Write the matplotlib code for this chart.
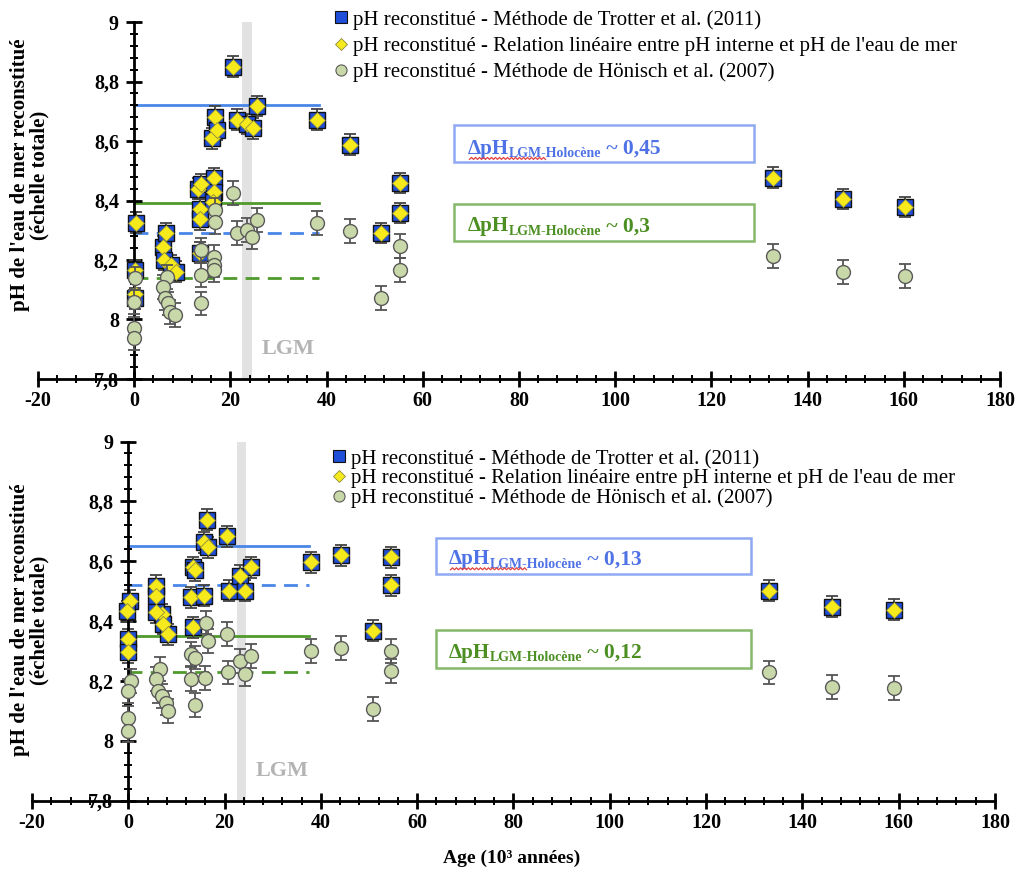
import numpy as np
import matplotlib
matplotlib.use("Agg")
import matplotlib.pyplot as plt
from matplotlib.lines import Line2D
from matplotlib.patches import Rectangle
from matplotlib.ticker import MultipleLocator

plt.rcParams['font.family'] = ['Liberation Serif', 'DejaVu Serif']

# ---- panneau du haut ----
top_trotter_age = [0.3, 0.2, 0.2, 5.9, 6.7, 6.3, 7.7, 8.8, 13.3, 14.0, 13.6, 13.6, 13.6,
                   16.5, 16.5, 16.4, 16.2, 16.8, 17.2, 20.6, 21.4, 23.4, 24.8, 25.6,
                   38.0, 44.9, 51.4, 55.3, 55.3, 132.8, 147.4, 160.3]
top_trotter_ph = [8.325, 8.166, 8.071, 8.245, 8.29, 8.20, 8.183, 8.16, 8.44, 8.455, 8.37, 8.337, 8.225,
                  8.475, 8.43, 8.396, 8.609, 8.682, 8.637, 8.85, 8.671, 8.657, 8.643, 8.718,
                  8.671, 8.587, 8.291, 8.459, 8.358, 8.476, 8.405, 8.378]
top_lin_ph = [8.325, 8.166, 8.085, 8.245, 8.29, 8.20, 8.183, 8.16, 8.44, 8.455, 8.37, 8.337, 8.225,
              8.475, 8.43, 8.396, 8.609, 8.682, 8.637, 8.85, 8.671, 8.657, 8.643, 8.718,
              8.671, 8.587, 8.291, 8.459, 8.358, 8.476, 8.405, 8.378]
top_honisch_age = [0.2, 0.0, 0.0, 0.0, 6.8, 6.1, 6.4, 7.1, 7.5, 8.5, 13.8, 13.8, 13.8,
                   16.8, 16.8, 16.7, 16.6, 16.6, 20.6, 21.4, 23.4, 24.4, 25.5, 38.0,
                   44.9, 51.4, 55.3, 55.3, 132.8, 147.4, 160.3]
top_honisch_ph = [8.138, 8.06, 7.97, 7.937, 8.144, 8.11, 8.071, 8.054, 8.026, 8.015, 8.234, 8.15, 8.054,
                  8.368, 8.329, 8.211, 8.183, 8.166, 8.424, 8.29, 8.301, 8.278, 8.334, 8.325,
                  8.297, 8.072, 8.247, 8.166, 8.213, 8.16, 8.146]
top_levels = {'blue_lgm': 8.72, 'blue_hol': 8.29, 'green_lgm': 8.39, 'green_hol': 8.14}
top_deltas = ['0,45', '0,3']

# ---- panneau du bas ----
bot_trotter_age = [0.3, -0.2, 0.0, 0.0, 5.8, 5.8, 6.9, 5.8, 7.2, 8.2, 13.4, 13.8, 13.1, 15.8, 13.4,
                   16.4, 15.8, 16.5, 20.4, 21.0, 23.1, 24.2, 25.4, 38.0, 44.2, 50.9, 54.6, 54.6,
                   133.1, 146.2, 159.1]
bot_trotter_ph = [8.468, 8.432, 8.34, 8.295, 8.518, 8.482, 8.423, 8.43, 8.39, 8.356, 8.58, 8.569, 8.479, 8.485, 8.379,
                  8.739, 8.664, 8.647, 8.683, 8.502, 8.552, 8.502, 8.58, 8.597, 8.62, 8.368, 8.613, 8.519,
                  8.502, 8.448, 8.438]
bot_lin_ph = list(bot_trotter_ph)
bot_honisch_age = [0.5, 0.0, 0.0, 0.0, 6.5, 5.8, 6.2, 6.9, 7.9, 8.2, 13.1, 13.8, 13.1, 13.8,
                   16.2, 16.6, 16.0, 20.7, 20.4, 23.1, 24.2, 25.5, 38.0, 44.2, 50.9, 54.6, 54.6,
                   133.1, 146.2, 159.1]
bot_honisch_ph = [8.20, 8.166, 8.077, 8.034, 8.239, 8.205, 8.166, 8.149, 8.127, 8.099, 8.289, 8.278, 8.205, 8.119,
                  8.395, 8.334, 8.211, 8.228, 8.358, 8.267, 8.222, 8.284, 8.30, 8.31, 8.105, 8.30, 8.233,
                  8.228, 8.18, 8.177]
bot_levels = {'blue_lgm': 8.65, 'blue_hol': 8.52, 'green_lgm': 8.35, 'green_hol': 8.23}
bot_deltas = ['0,13', '0,12']

labels = ["pH reconstitué - Méthode de Trotter et al. (2011)",
          "pH reconstitué - Relation linéaire entre pH interne et pH de l'eau de mer",
          "pH reconstitué - Méthode de Hönisch et al. (2007)"]

BLUE = '#1f4fd8'
YELLOW = '#f7ea1c'
SAGE = '#c9d8a9'
LINE_BLUE = '#4a86e8'
LINE_GREEN = '#4f9a2c'
TXT_BLUE = '#4f72e6'
TXT_GREEN = '#4c8f22'

fig = plt.figure(figsize=(10.23, 8.71), dpi=100)
ax_top = fig.add_axes([0.0371, 0.5649, 0.9404, 0.4098])
ax_bot = fig.add_axes([0.0313, 0.0809, 0.9413, 0.4122])
squiggle_texts = []


def delta_label(ax, x, y, value, color):
    t1 = ax.text(x, y, 'ΔpH', color=color, fontsize=15, fontweight='bold', va='baseline')
    t2 = ax.annotate('LGM-Holocène', xy=(1, 0), xycoords=t1, xytext=(0, 1),
                     textcoords='offset points', fontsize=10, fontweight='bold',
                     color=color, va='baseline')
    ax.annotate(' ~ ' + value, xy=(1, 0), xycoords=(t2, t1), fontsize=15.5,
                fontweight='bold', color=color, va='bottom')
    return t1, t2


def draw_panel(ax, t_age, t_ph, l_ph, h_age, h_ph, lv, deltas, boxes, text_xy, x_end):
    ax.set_xlim(-20, 180)
    ax.set_ylim(7.8, 9)
    ax.axvspan(22.5, 24.5, color='#e2e2e2', zorder=0, lw=0)

    ax.plot([0, x_end], [lv['blue_lgm']] * 2, color=LINE_BLUE, lw=2, zorder=1)
    ax.plot([0, x_end], [lv['blue_hol']] * 2, color=LINE_BLUE, lw=2, ls=(0, (5, 3)), zorder=1)
    ax.plot([0, x_end], [lv['green_lgm']] * 2, color=LINE_GREEN, lw=2, zorder=1)
    ax.plot([0, x_end], [lv['green_hol']] * 2, color=LINE_GREEN, lw=2, ls=(0, (5, 3)), zorder=1)

    ax.errorbar(t_age, t_ph, yerr=0.035, fmt='none', ecolor='#444444', elinewidth=1.3,
                capsize=4, capthick=1.3, zorder=2)
    ax.plot(t_age, t_ph, 's', ms=12, mfc=BLUE, mec='#111111', mew=1, ls='none', zorder=3)
    ax.plot(t_age, l_ph, 'D', ms=8.5, mfc=YELLOW, mec='#8a8a40', mew=0.6, ls='none', zorder=4)
    ax.errorbar(h_age, h_ph, yerr=0.04, fmt='none', ecolor='#555555', elinewidth=1.3,
                capsize=4, capthick=1.3, zorder=5)
    ax.plot(h_age, h_ph, 'o', ms=10, mfc=SAGE, mec='#5a5a5a', mew=1, ls='none', zorder=6)

    ax.text(32, 7.9, 'LGM', color='#b4b4b4', fontsize=16, fontweight='bold',
            ha='center', va='center')

    for (x0, x1, y0, y1), c in zip(boxes, ['#8fa9f2', '#86b86a']):
        ax.add_patch(Rectangle((x0, y0), x1 - x0, y1 - y0, fill=False, ec=c, lw=1.8, zorder=1))
    squiggle_texts.append(delta_label(ax, text_xy[0][0], text_xy[0][1], deltas[0], TXT_BLUE))
    delta_label(ax, text_xy[1][0], text_xy[1][1], deltas[1], TXT_GREEN)

    for s in ['top', 'right']:
        ax.spines[s].set_visible(False)
    ax.spines['left'].set_position(('data', 0))
    ax.spines['left'].set_linewidth(2)
    ax.spines['bottom'].set_linewidth(2)
    ax.set_zorder(1)

    xt = list(range(-20, 181, 20))
    ax.set_xticks(xt, [str(v) for v in xt], fontsize=14.5, fontweight='bold')
    yt = [7.8, 8.0, 8.2, 8.4, 8.6, 8.8, 9.0]
    ax.set_yticks(yt, [('%g' % v).replace('.', ',') for v in yt], fontsize=14.5, fontweight='bold')
    ax.xaxis.set_minor_locator(MultipleLocator(4))
    ax.yaxis.set_minor_locator(MultipleLocator(0.04))
    ax.tick_params(which='major', direction='inout', length=12, width=2, pad=3)
    ax.tick_params(which='minor', direction='inout', length=6, width=1.4)
    ax.tick_params(axis='y', pad=5)
    ax.patch.set_alpha(0)


draw_panel(ax_top, top_trotter_age, top_trotter_ph, top_lin_ph, top_honisch_age, top_honisch_ph,
           top_levels, top_deltas,
           [(66.5, 128.9, 8.531, 8.655), (66.5, 128.9, 8.263, 8.387)],
           [(69.3, 8.557), (69.3, 8.297)], 38.5)
draw_panel(ax_bot, bot_trotter_age, bot_trotter_ph, bot_lin_ph, bot_honisch_age, bot_honisch_ph,
           bot_levels, bot_deltas,
           [(64.0, 129.4, 8.558, 8.678), (64.0, 129.4, 8.243, 8.370)],
           [(66.5, 8.59), (66.5, 8.277)], 37.5)

handles = [Line2D([], [], marker='s', ms=8, mfc=BLUE, mec='#111111', mew=0.8, ls='none'),
           Line2D([], [], marker='D', ms=6, mfc=YELLOW, mec='#8a8a40', mew=0.6, ls='none'),
           Line2D([], [], marker='o', ms=8, mfc=SAGE, mec='#5a5a5a', mew=0.8, ls='none')]
fig.legend(handles, labels, loc='upper left', bbox_to_anchor=(336 / 1023, 1 - 10 / 871),
           frameon=False, fontsize=15, handlelength=0.5, handletextpad=0.3,
           borderpad=0, borderaxespad=0, labelspacing=0.32)
fig.legend(handles, labels, loc='upper left', bbox_to_anchor=(334 / 1023, 1 - 449 / 871),
           frameon=False, fontsize=15, handlelength=0.5, handletextpad=0.3,
           borderpad=0, borderaxespad=0, labelspacing=0.0)

ylab = "pH de l'eau de mer reconstitué\n(échelle totale)"
fig.text(30 / 1023, 1 - 175 / 871, ylab, rotation=90, ha='center', va='center',
         fontsize=15, fontweight='bold', linespacing=0.95, multialignment='center')
fig.text(30 / 1023, 1 - 620 / 871, ylab, rotation=90, ha='center', va='center',
         fontsize=15, fontweight='bold', linespacing=0.95, multialignment='center')
fig.text(512 / 1023, 1 - 858 / 871, 'Age (10³ années)', ha='center', va='center',
         fontsize=14, fontweight='bold')

# soulignement ondulé rouge (correcteur orthographique) sous "ΔpH LGM-"
fig.canvas.draw()
for t1, t2 in squiggle_texts:
    b1 = t1.get_window_extent()
    b2 = t2.get_window_extent()
    xs = np.arange(b1.x0 + 2, b2.x0 + 0.42 * b2.width, 2.0)
    ys = b2.y0 + 1 + np.where(np.arange(len(xs)) % 2 == 0, 0.0, 2.0)
    fig.add_artist(Line2D(xs, ys, transform=None, color='#e04040', lw=0.9))

plt.savefig('out.png', dpi=100)
